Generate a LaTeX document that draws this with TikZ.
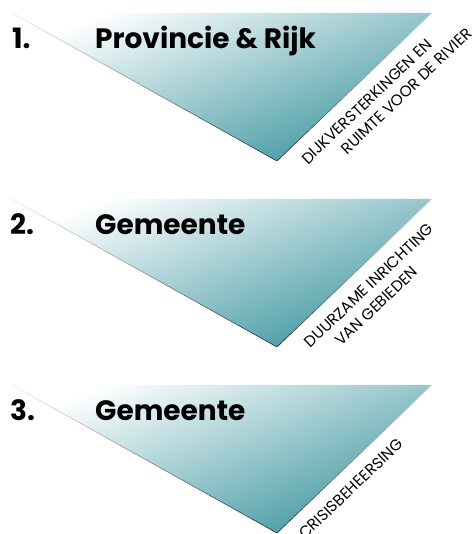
\documentclass[tikz,border=0pt]{standalone}
\usepackage{fontspec}
\setmainfont{Poppins}
\usetikzlibrary{calc}
\definecolor{riverteal}{RGB}{62,150,160}

\begin{document}
\begin{tikzpicture}[x=1pt, y=1pt,
        panel/.style={shade, top color=white, middle color=riverteal!40, bottom color=riverteal, shading angle=22},
        heading/.style={anchor=base west, inner sep=0pt, font=\fontsize{28}{28}\selectfont\bfseries},
        edgetext/.style={rotate=43.7, inner sep=0pt, font=\fontsize{15.5}{18}\selectfont} ]

    \useasboundingbox (0,0) rectangle (474,534);

    % the three wedges, edges fading towards the top
    \foreach \n in {1,2,3} {
        \coordinate (L\n) at (12, 707-186*\n);
        \coordinate (R\n) at (432, 707-186*\n);
        \coordinate (V\n) at (277, 559-186*\n);
        \path[panel] (L\n) -- (R\n) -- (V\n) -- cycle;
        \foreach \k in {0,...,19} {
            \pgfmathtruncatemacro\ink{85-4*\k}
            \draw[line width=0.6pt, black!\ink]
                ($(V\n)!\k/20!(L\n)$) -- ($(V\n)!\k/20+0.05!(L\n)$)
                ($(V\n)!\k/20!(R\n)$) -- ($(V\n)!\k/20+0.05!(R\n)$);
        }
    }

    \node[heading] (num1) at (12,485) {1.};
    \node[heading] (title1) at (95,485) {Provincie \& Rijk};
    \node[heading] (num2) at (10,299) {2.};
    \node[heading] (title2) at (95,299) {Gemeente};
    \node[heading] (num3) at (10,113) {3.};
    \node[heading] (title3) at (95,113) {Gemeente};

    \begin{scope}[shift={(V1)}, rotate=43.7]
        \node[edgetext] (task1a) at (106,-19) {DIJKVERSTERKINGEN EN};
        \node[edgetext] (task1b) at (142,-39) {RUIMTE VOOR DE RIVIER};
    \end{scope}
    \begin{scope}[shift={(V2)}, rotate=43.7]
        \node[edgetext] (task2a) at (109,-19) {DUURZAME INRICHTING};
        \node[edgetext] (task2b) at (100,-39) {VAN GEBIEDEN};
    \end{scope}
    \begin{scope}[shift={(V3)}, rotate=43.7]
        \node[edgetext] (task3) at (84,-19) {CRISISBEHEERSING};
    \end{scope}
\end{tikzpicture}
\end{document}
